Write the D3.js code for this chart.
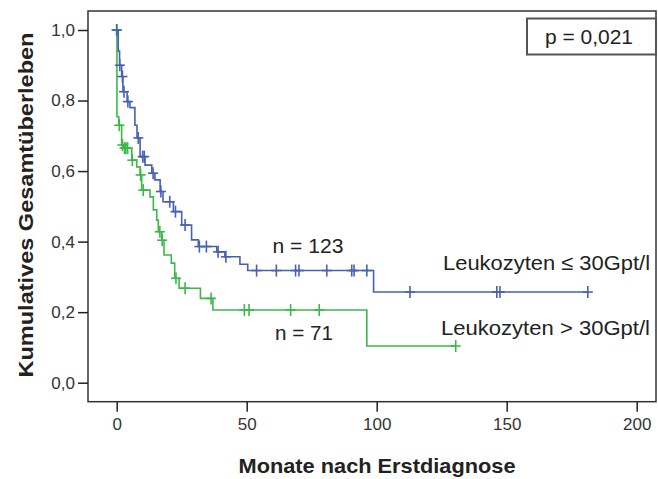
<!DOCTYPE html>
<html><head><meta charset="utf-8">
<script src="https://cdn.jsdelivr.net/npm/d3@7"></script>
<style>
html,body{margin:0;padding:0;background:#fff;}
svg{display:block;font-family:"Liberation Sans",Arial,sans-serif;}
</style></head>
<body><svg id="c" width="658" height="479"></svg>
<script>
// ---- data ----
const xTicks = [0, 50, 100, 150, 200];
const yTicks = [0, 0.2, 0.4, 0.6, 0.8, 1.0];
const groupLabels = ["Leukozyten \u2264 30Gpt/l", "Leukozyten > 30Gpt/l"];
const groupN = ["n = 123", "n = 71"];
const pText = "p = 0,021";
// Blue group (<= 30 Gpt/l): [time in months, survival]
const blueSteps = [[0,1.0],[0.6,0.94],[1.1,0.90],[1.9,0.868],[2.4,0.825],[4.0,0.797],[5.1,0.78],[7.0,0.73],[7.8,0.694],[9.0,0.641],[10.9,0.617],[13.5,0.594],[14.7,0.575],[16.7,0.542],[17.8,0.513],[21.8,0.485],[25.0,0.447],[28.8,0.405],[31.4,0.386],[38.5,0.371],[41.6,0.357],[47.4,0.336],[50.4,0.318],[98.8,0.257]];
const blueEnd = 181.2;
const blueCensored = [0,1.2,2.2,2.8,4.3,8.3,10.0,10.6,14.0,17.0,20.4,22.6,26.3,31.8,34.5,39.0,42.0,53.8,61.4,68.8,70.1,80.8,90.4,91.3,96.2,112.8,146.2,147.4,181.2];
// Green group (> 30 Gpt/l)
const greenSteps = [[0,1.0],[0.1,0.754],[0.8,0.73],[1.9,0.674],[2.6,0.665],[5.8,0.631],[7.7,0.612],[9.0,0.589],[9.6,0.546],[12.8,0.527],[14.1,0.49],[15.4,0.461],[16.0,0.428],[17.3,0.404],[18.2,0.362],[21.0,0.339],[22.3,0.296],[24.0,0.268],[32.2,0.239],[37.0,0.206],[96.2,0.104]];
const greenEnd = 130.4;
const greenCensored = [0,1.0,2.2,3.0,3.5,4.2,6.0,9.2,10.2,16.6,17.5,22.8,26.3,36.3,49.1,50.9,66.9,77.9,130.4];

// ---- drawing ----
const svg = d3.select("#c");
const x = d3.scaleLinear().domain([0, 200]).range([116.7, 636.7]);
const y = d3.scaleLinear().domain([0, 1]).range([382.7, 30]);
const frame = {l: 88, t: 11, r: 656, b: 401.7};

// frame
svg.append("rect").attr("x", frame.l).attr("y", frame.t)
  .attr("width", frame.r - frame.l).attr("height", frame.b - frame.t)
  .attr("fill", "#fff").attr("stroke", "#333").attr("stroke-width", 1.5);

// y axis
const yAxis = d3.axisLeft(y).tickValues(yTicks).tickSize(10).tickPadding(3)
  .tickFormat(d => d3.format(".1f")(d).replace(".", ","));
const gy = svg.append("g").attr("transform", `translate(${frame.l},0)`).call(yAxis);
gy.select(".domain").remove();
gy.selectAll(".tick line").attr("stroke", "#222").attr("stroke-width", 1.5);
gy.selectAll(".tick text").attr("font-size", 17).attr("fill", "#333")
  .attr("font-family", "'Liberation Sans',Arial,sans-serif");

// x axis
const xAxis = d3.axisBottom(x).tickValues(xTicks).tickSize(10).tickPadding(6);
const gx = svg.append("g").attr("transform", `translate(0,${frame.b})`).call(xAxis);
gx.select(".domain").remove();
gx.selectAll(".tick line").attr("stroke", "#222").attr("stroke-width", 1.5);
gx.selectAll(".tick text").attr("font-size", 17).attr("fill", "#333")
  .attr("font-family", "'Liberation Sans',Arial,sans-serif");

// axis titles
svg.append("text").attr("x", 377).attr("y", 473).attr("text-anchor", "middle")
  .attr("font-size", 21).attr("font-weight", "bold").attr("fill", "#222")
  .attr("textLength", 277).attr("lengthAdjust", "spacingAndGlyphs")
  .text("Monate nach Erstdiagnose");
svg.append("text").attr("transform", "translate(33,205) rotate(-90)")
  .attr("text-anchor", "middle")
  .attr("font-size", 20).attr("font-weight", "bold").attr("fill", "#222")
  .attr("textLength", 345).attr("lengthAdjust", "spacingAndGlyphs")
  .text("Kumulatives Gesamtüberleben");

// KM curves
function survAt(steps, t) {
  let s = steps[0][1];
  for (const st of steps) { if (st[0] <= t) s = st[1]; }
  return s;
}
function drawCurve(steps, end, censored, color) {
  const pts = steps.concat([[end, steps[steps.length - 1][1]]]);
  const line = d3.line().x(d => x(d[0])).y(d => y(d[1])).curve(d3.curveStepAfter);
  svg.append("path").attr("d", line(pts)).attr("fill", "none")
    .attr("stroke", color).attr("stroke-width", 1.6);
  const g = svg.append("g").attr("stroke", color).attr("stroke-width", 1.6);
  censored.forEach(t => {
    const cx = x(t), cy = y(survAt(steps, t));
    g.append("line").attr("x1", cx).attr("x2", cx).attr("y1", cy - 6).attr("y2", cy + 6);
    g.append("line").attr("x1", cx - 5).attr("x2", cx + 5).attr("y1", cy).attr("y2", cy);
  });
}
drawCurve(greenSteps, greenEnd, greenCensored, "#3cb84a");
drawCurve(blueSteps, blueEnd, blueCensored, "#4860b4");

// annotations
const ann = svg.append("g").attr("font-size", 21).attr("fill", "#222");
ann.append("text").attr("x", 272.5).attr("y", 253).attr("textLength", 71)
  .attr("lengthAdjust", "spacingAndGlyphs").text(groupN[0]);
ann.append("text").attr("x", 275).attr("y", 340).attr("textLength", 58)
  .attr("lengthAdjust", "spacingAndGlyphs").text(groupN[1]);
ann.append("text").attr("x", 443).attr("y", 270).attr("textLength", 207)
  .attr("lengthAdjust", "spacingAndGlyphs").text(groupLabels[0]);
ann.append("text").attr("x", 441).attr("y", 335).attr("textLength", 209)
  .attr("lengthAdjust", "spacingAndGlyphs").text(groupLabels[1]);

// p-value box
svg.append("rect").attr("x", 527).attr("y", 18.5).attr("width", 129).attr("height", 36)
  .attr("fill", "#fff").attr("stroke", "#555").attr("stroke-width", 2);
svg.append("text").attr("x", 545).attr("y", 44).attr("textLength", 88)
  .attr("lengthAdjust", "spacingAndGlyphs")
  .attr("font-size", 21).attr("fill", "#222").text(pText);
</script>
</body></html>
